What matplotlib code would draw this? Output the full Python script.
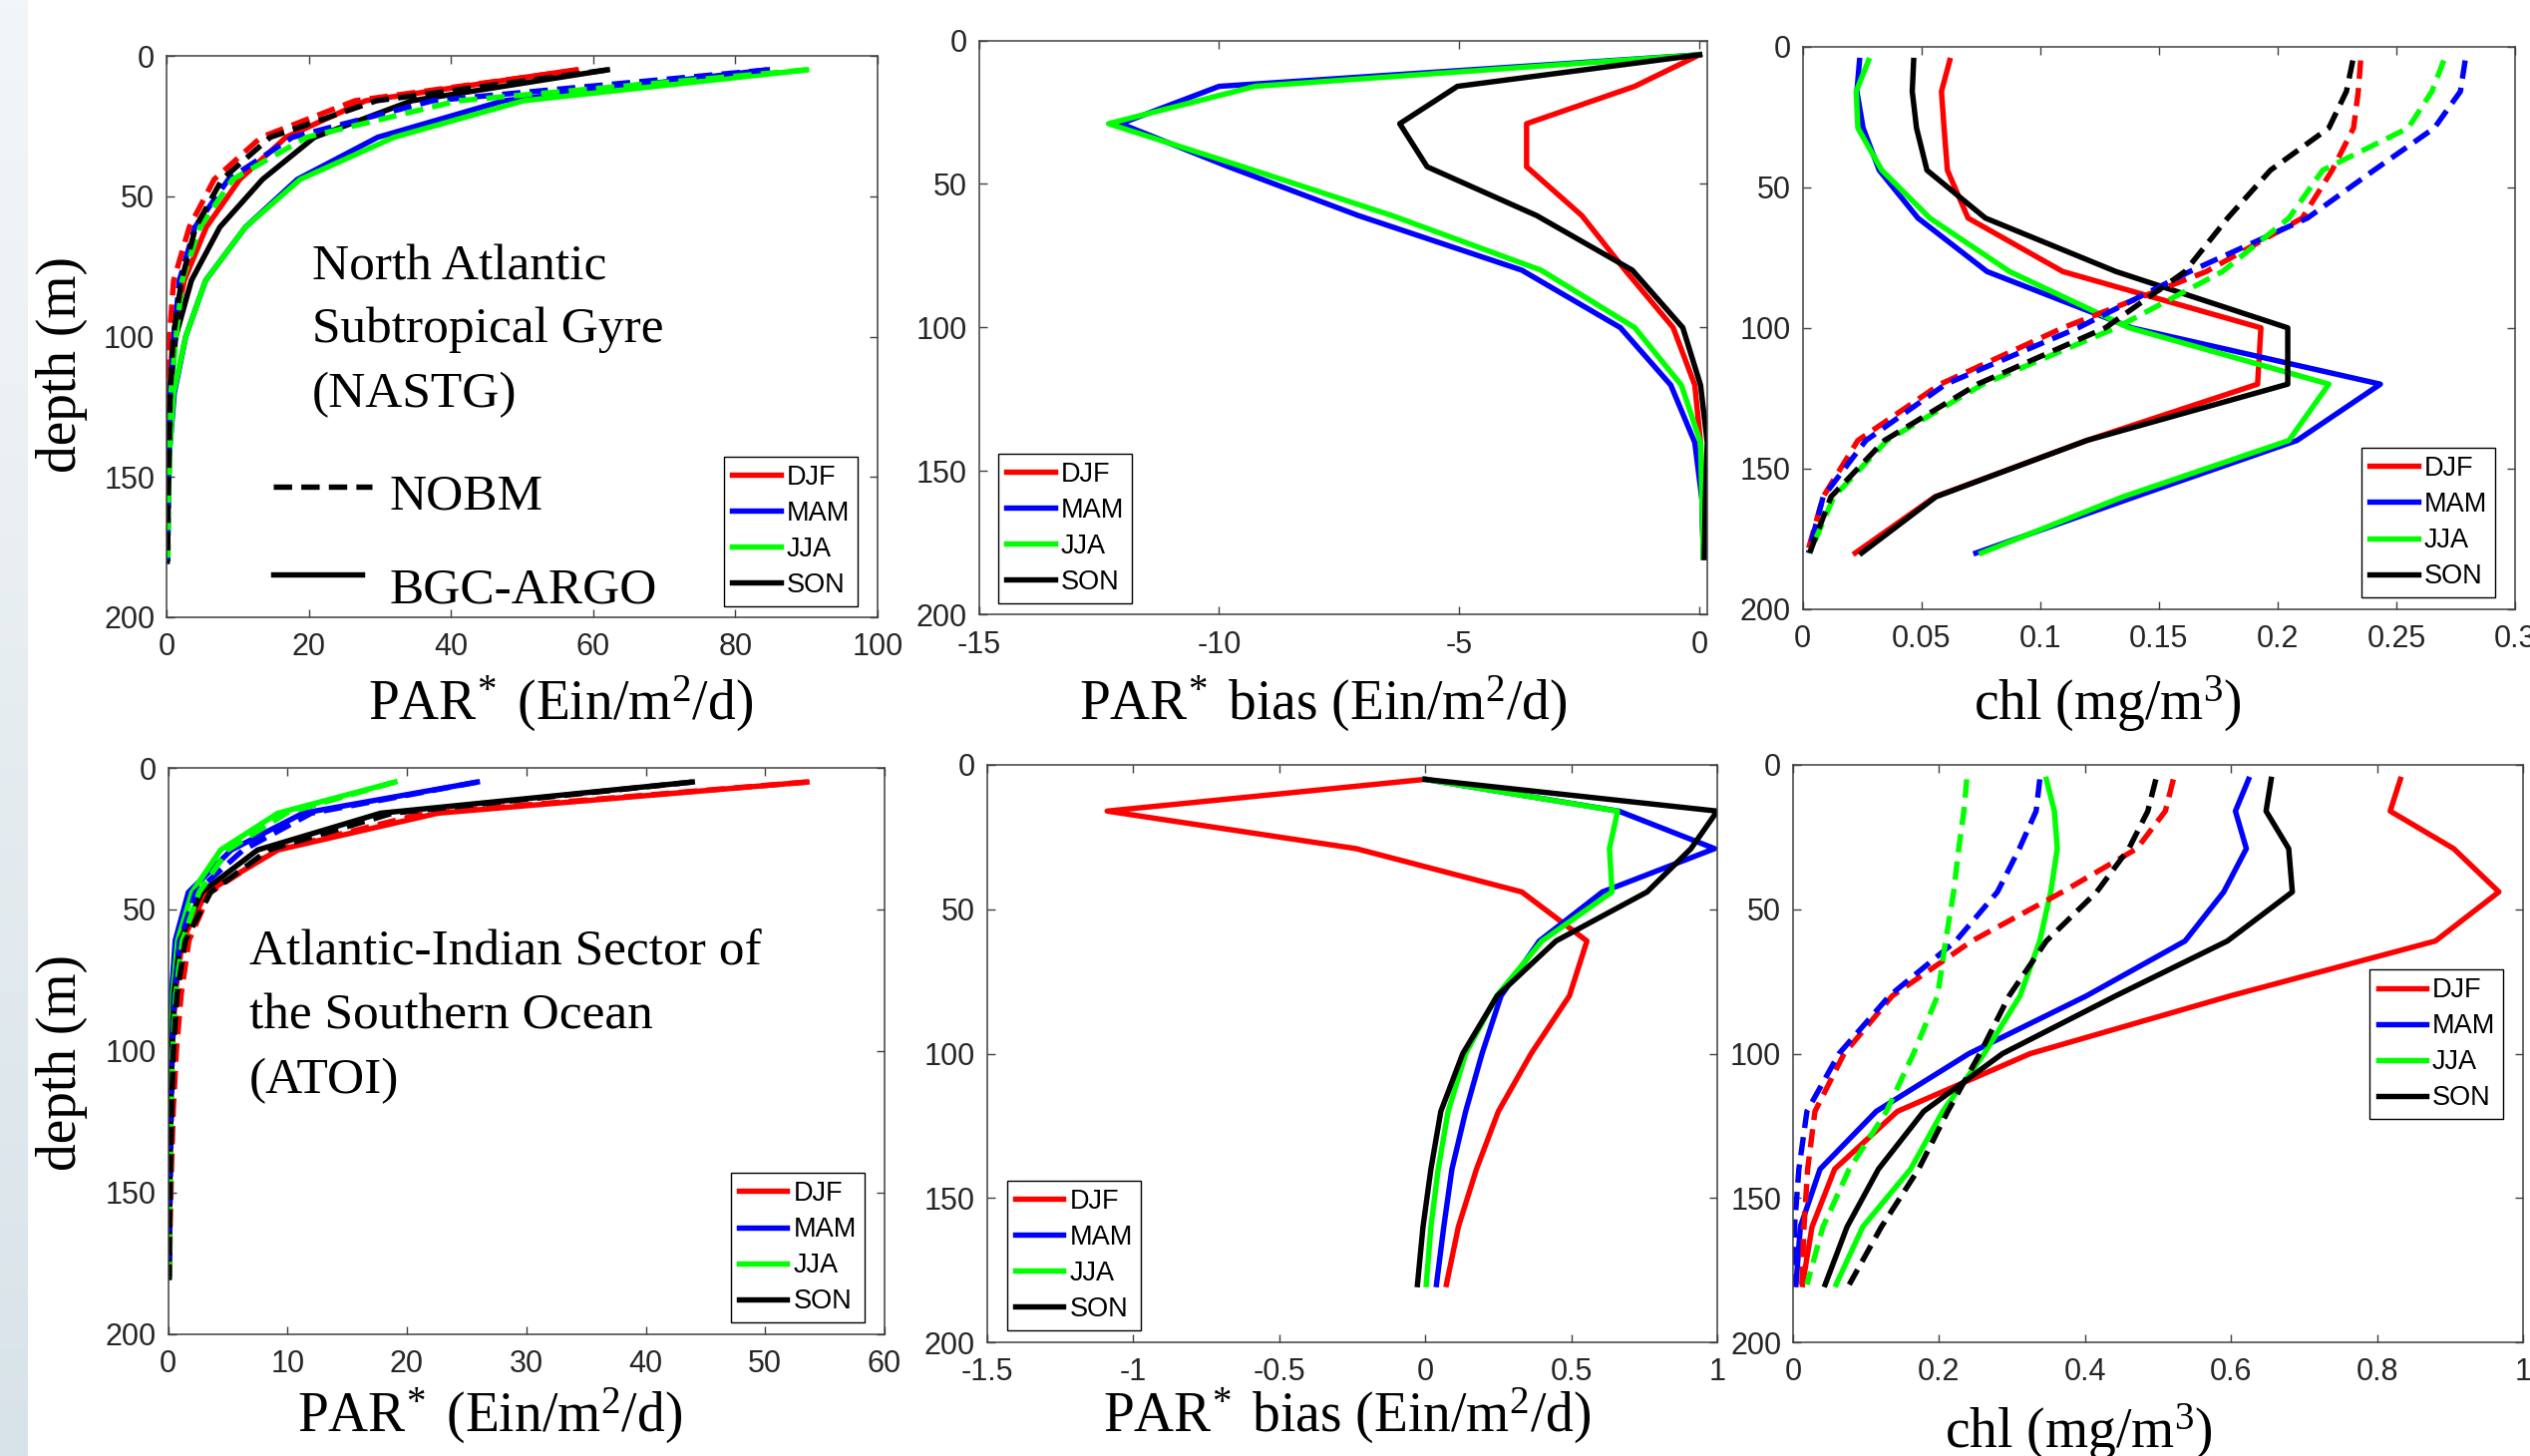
import matplotlib.pyplot as plt
import numpy as np
from matplotlib.colors import LinearSegmentedColormap

# ---------------------------------------------------------------
# Seasonal mean profiles, NOBM (dashed) vs BGC-ARGO (solid)
# ---------------------------------------------------------------
depth = [5, 16, 29, 44, 61, 80, 100, 120, 140, 160, 180]
seasons = ['DJF', 'MAM', 'JJA', 'SON']
season_colors = ['#ff0000', '#0000ff', '#00ff00', '#000000']

# North Atlantic Subtropical Gyre (NASTG)
nastg_par_argo = {
    'DJF': [57.5, 28.0, 16.8, 10.3, 5.6, 2.5, 0.9, 0.35, 0.2, 0.1, 0.05],
    'MAM': [84.5, 47.4, 29.7, 18.4, 11.1, 5.5, 2.7, 1.1, 0.45, 0.2, 0.1],
    'JJA': [90.0, 50.2, 32.0, 18.8, 11.1, 5.5, 2.7, 1.0, 0.45, 0.2, 0.1],
    'SON': [62.0, 34.5, 20.8, 13.5, 7.5, 3.5, 1.3, 0.5, 0.2, 0.1, 0.05],
}
nastg_par_nobm = {
    'DJF': [58.0, 26.5, 13.3, 6.7, 3.2, 1.0, 0.4, 0.25, 0.2, 0.15, 0.1],
    'MAM': [84.5, 37.4, 17.7, 8.7, 4.0, 1.8, 1.05, 0.5, 0.35, 0.25, 0.18],
    'JJA': [90.0, 41.0, 19.7, 9.3, 4.7, 2.2, 1.35, 0.62, 0.47, 0.25, 0.18],
    'SON': [62.0, 29.5, 14.6, 7.8, 4.1, 2.1, 0.95, 0.52, 0.36, 0.22, 0.15],
}
nastg_par_bias = {
    'DJF': [0.0, -1.35, -3.6, -3.6, -2.45, -1.55, -0.55, -0.1, 0.02, 0.05, 0.08],
    'MAM': [0.0, -10.0, -12.05, -9.8, -7.1, -3.7, -1.65, -0.6, -0.1, 0.05, 0.08],
    'JJA': [0.0, -9.25, -12.3, -9.5, -6.4, -3.3, -1.35, -0.38, 0.02, 0.05, 0.08],
    'SON': [0.0, -5.04, -6.24, -5.67, -3.39, -1.4, -0.35, 0.02, 0.16, 0.12, 0.1],
}
nastg_chl_argo = {
    'DJF': [0.062, 0.0585, 0.0596, 0.061, 0.0697, 0.1096, 0.193, 0.1916, 0.1197, 0.0558, 0.0222],
    'MAM': [0.024, 0.0229, 0.0255, 0.0323, 0.0486, 0.0777, 0.1387, 0.2433, 0.2082, 0.14, 0.073],
    'JJA': [0.0278, 0.0226, 0.0233, 0.0334, 0.0536, 0.0872, 0.1376, 0.2216, 0.2048, 0.135, 0.0753],
    'SON': [0.0468, 0.0462, 0.048, 0.0524, 0.077, 0.132, 0.2043, 0.2043, 0.1197, 0.0562, 0.0249],
}
nastg_chl_nobm = {
    'DJF': [0.235, 0.234, 0.232, 0.223, 0.2104, 0.170, 0.1096, 0.058, 0.0233, 0.0087, 0.002],
    'MAM': [0.279, 0.277, 0.266, 0.2406, 0.2126, 0.163, 0.116, 0.0603, 0.0267, 0.0087, 0.0025],
    'JJA': [0.270, 0.265, 0.255, 0.219, 0.2048, 0.1768, 0.132, 0.076, 0.0356, 0.0132, 0.003],
    'SON': [0.2317, 0.229, 0.2216, 0.197, 0.179, 0.161, 0.1275, 0.0737, 0.0345, 0.012, 0.003],
}

# Atlantic-Indian Sector of the Southern Ocean (ATOI)
atoi_par_argo = {
    'DJF': [53.5, 22.6, 9.2, 3.2, 1.2, 0.6, 0.35, 0.2, 0.12, 0.08, 0.05],
    'MAM': [25.9, 11.3, 5.3, 1.7, 0.6, 0.3, 0.15, 0.15, 0.12, 0.09, 0.06],
    'JJA': [19.0, 9.2, 4.4, 2.0, 0.8, 0.4, 0.26, 0.2, 0.16, 0.12, 0.1],
    'SON': [43.9, 17.8, 7.5, 2.8, 1.0, 0.5, 0.32, 0.25, 0.18, 0.14, 0.1],
}
atoi_par_nobm = {
    'DJF': [53.5, 21.5, 9.0, 3.5, 1.75, 1.1, 0.7, 0.45, 0.3, 0.19, 0.12],
    'MAM': [25.9, 12.0, 6.3, 2.3, 1.0, 0.56, 0.35, 0.29, 0.21, 0.15, 0.1],
    'JJA': [19.0, 9.9, 5.0, 2.6, 1.2, 0.65, 0.4, 0.28, 0.2, 0.14, 0.1],
    'SON': [43.9, 18.8, 8.4, 3.56, 1.45, 0.75, 0.45, 0.3, 0.2, 0.13, 0.08],
}
atoi_par_bias = {
    'DJF': [0.0, -1.088, -0.236, 0.331, 0.554, 0.494, 0.363, 0.251, 0.176, 0.114, 0.073],
    'MAM': [0.0, 0.663, 0.991, 0.607, 0.391, 0.26, 0.195, 0.139, 0.092, 0.064, 0.039],
    'JJA': [0.0, 0.659, 0.631, 0.64, 0.40, 0.245, 0.139, 0.079, 0.045, 0.02, 0.004],
    'SON': [0.0, 1.0, 0.91, 0.76, 0.448, 0.247, 0.129, 0.054, 0.02, -0.007, -0.026],
}
atoi_chl_argo = {
    'DJF': [0.832, 0.818, 0.905, 0.967, 0.88, 0.599, 0.325, 0.143, 0.057, 0.026, 0.013],
    'MAM': [0.624, 0.606, 0.621, 0.59, 0.537, 0.402, 0.241, 0.114, 0.037, 0.01, 0.004],
    'JJA': [0.347, 0.358, 0.362, 0.353, 0.338, 0.311, 0.262, 0.205, 0.161, 0.0955, 0.059],
    'SON': [0.655, 0.648, 0.679, 0.684, 0.595, 0.442, 0.287, 0.179, 0.117, 0.074, 0.044],
}
atoi_chl_nobm = {
    'DJF': [0.521, 0.51, 0.471, 0.369, 0.245, 0.136, 0.07, 0.03, 0.02, 0.015, 0.012],
    'MAM': [0.338, 0.333, 0.31, 0.28, 0.223, 0.132, 0.063, 0.019, 0.008, 0.002, 0.001],
    'JJA': [0.238, 0.234, 0.227, 0.22, 0.209, 0.198, 0.165, 0.128, 0.077, 0.041, 0.019],
    'SON': [0.497, 0.486, 0.46, 0.416, 0.347, 0.296, 0.256, 0.212, 0.172, 0.121, 0.077],
}

# axis ticks
par_ticks_nastg = [0, 20, 40, 60, 80, 100]
bias_ticks_nastg = [-15, -10, -5, 0]
chl_ticks_nastg = [0, 0.05, 0.1, 0.15, 0.2, 0.25, 0.3]
chl_ticklabels_nastg = ['0', '0.05', '0.1', '0.15', '0.2', '0.25', '0.3']
par_ticks_atoi = [0, 10, 20, 30, 40, 50, 60]
bias_ticks_atoi = [-1.5, -1, -0.5, 0, 0.5, 1]
bias_ticklabels_atoi = ['-1.5', '-1', '-0.5', '0', '0.5', '1']
chl_ticks_atoi = [0, 0.2, 0.4, 0.6, 0.8, 1]
chl_ticklabels_atoi = ['0', '0.2', '0.4', '0.6', '0.8', '1']
depth_ticks = [0, 50, 100, 150, 200]

# ---------------------------------------------------------------
plt.rcParams['font.family'] = ['Liberation Sans', 'DejaVu Sans']
plt.rcParams['mathtext.fontset'] = 'custom'
plt.rcParams['mathtext.rm'] = 'Liberation Serif'
plt.rcParams['mathtext.it'] = 'Liberation Serif:italic'
plt.rcParams['mathtext.default'] = 'regular'

W, H = 2537, 1460
fig = plt.figure(figsize=(W / 100, H / 100), dpi=100)

LW = 3.9
DASH = (3.4, 1.7)
SERIF = 'Liberation Serif'
TXT = '#262626'


def px_rect(l, t, r, b):
    return [l / W, 1 - b / H, (r - l) / W, (b - t) / H]


def style_axes(ax, xlim, xticks, xticklabels=None):
    ax.set_xlim(*xlim)
    ax.set_ylim(200, 0)
    ax.set_xticks(xticks)
    if xticklabels is None:
        xticklabels = [str(t) for t in xticks]
    ax.set_xticklabels(xticklabels)
    ax.set_yticks(depth_ticks)
    ax.set_yticklabels([str(t) for t in depth_ticks])
    ax.tick_params(direction='in', top=True, right=True, length=5.5, width=1.0,
                   labelsize=22, colors='#404040', labelcolor=TXT)
    ax.tick_params(axis='x', pad=11)
    ax.tick_params(axis='y', pad=8.5)
    for sp in ax.spines.values():
        sp.set_color('#404040')
        sp.set_linewidth(1.1)


def add_legend(ax, handles, loc, anchor):
    leg = ax.legend(handles, seasons, loc=loc, bbox_to_anchor=anchor,
                    borderaxespad=0, fontsize=19.5, frameon=True, fancybox=False,
                    edgecolor='black', framealpha=1, handlelength=1.78,
                    handletextpad=0.22, borderpad=0.3, labelspacing=0.37)
    leg.get_frame().set_linewidth(1.0)


def profile_panel(rect, argo, nobm, xlim, xticks, xticklabels, loc, anchor):
    ax = fig.add_axes(px_rect(*rect))
    handles = []
    for s, c in zip(seasons, season_colors):
        h, = ax.plot(argo[s], depth, color=c, lw=LW)
        handles.append(h)
    for s, c in zip(seasons, season_colors):
        ax.plot(nobm[s], depth, color=c, lw=LW, ls=(0, DASH))
    style_axes(ax, xlim, xticks, xticklabels)
    add_legend(ax, handles, loc, anchor)
    return ax


def bias_panel(rect, bias, xlim, xticks, xticklabels, loc, anchor):
    ax = fig.add_axes(px_rect(*rect))
    handles = []
    for s, c in zip(seasons, season_colors):
        h, = ax.plot(bias[s], depth, color=c, lw=LW)
        handles.append(h)
    style_axes(ax, xlim, xticks, xticklabels)
    add_legend(ax, handles, loc, anchor)
    return ax


# top row: NASTG
axA = profile_panel((167, 56, 880, 619), nastg_par_argo, nastg_par_nobm,
                    (0, 100), par_ticks_nastg, None, 'lower right', (0.972, 0.0195))
axB = bias_panel((981.5, 40.5, 1712, 616.5), nastg_par_bias,
                 (-15, 0.16), bias_ticks_nastg, None, 'lower left', (0.027, 0.020))
axC = profile_panel((1807.5, 46.5, 2522, 611), nastg_chl_argo, nastg_chl_nobm,
                    (0, 0.3), chl_ticks_nastg, chl_ticklabels_nastg, 'lower right', (0.972, 0.021))

# bottom row: ATOI
axD = profile_panel((168.5, 770, 887, 1337.5), atoi_par_argo, atoi_par_nobm,
                    (0, 60), par_ticks_atoi, None, 'lower right', (0.972, 0.020))
axE = bias_panel((989.5, 767, 1722, 1346), atoi_par_bias,
                 (-1.5, 1), bias_ticks_atoi, bias_ticklabels_atoi, 'lower left', (0.028, 0.021))
axF = profile_panel((1798, 767, 2530, 1346), atoi_chl_argo, atoi_chl_nobm,
                    (0, 1), chl_ticks_atoi, chl_ticklabels_atoi, 'upper right', (0.973, 0.646))

# region names
for txt, y in zip(['North Atlantic', 'Subtropical Gyre', '(NASTG)'], [0.602, 0.490, 0.375]):
    axA.text(0.205, y, txt, transform=axA.transAxes, family=SERIF, fontsize=37,
             va='baseline', ha='left', color='black')
for txt, y in zip(['Atlantic-Indian Sector of', 'the Southern Ocean', '(ATOI)'],
                  [0.652, 0.539, 0.426]):
    axD.text(0.113, y, txt, transform=axD.transAxes, family=SERIF, fontsize=37,
             va='baseline', ha='left', color='black')

# line-style key
axA.plot([0.150, 0.289], [0.2334, 0.2334], transform=axA.transAxes, color='black',
         lw=LW, ls=(0, DASH))
axA.text(0.313, 0.215, 'NOBM', transform=axA.transAxes, family=SERIF, fontsize=37,
         va='center', ha='left')
axA.plot([0.150, 0.275], [0.0764, 0.0764], transform=axA.transAxes, color='black', lw=LW)
axA.text(0.313, 0.048, 'BGC-ARGO', transform=axA.transAxes, family=SERIF, fontsize=37,
         va='center', ha='left')

# axis labels
par_label = r'PAR$^{\!*}$ (Ein/m$^2$/d)'
bias_label = r'PAR$^{\!*}$ bias (Ein/m$^2$/d)'
chl_label = 'chl (mg/m$^3$)'
lab_kw = dict(family=SERIF, fontsize=40, ha='center', va='center', color='black')
fig.text(62 / W, 1 - 366 / H, 'depth (m)', rotation=90, **lab_kw)
fig.text(62 / W, 1 - 1066 / H, 'depth (m)', rotation=90, **lab_kw)
fig.text(562 / W, 1 - 706 / H, par_label, **lab_kw)
fig.text(1327 / W, 1 - 706 / H, bias_label, **lab_kw)
fig.text(2113 / W, 1 - 706 / H, chl_label, **lab_kw)
fig.text(491 / W, 1 - 1420 / H, par_label, **lab_kw)
fig.text(1351 / W, 1 - 1420 / H, bias_label, **lab_kw)
fig.text(2084 / W, 1 - 1436 / H, chl_label, **lab_kw)

# light strip along the left edge
ax_strip = fig.add_axes([0, 0, 28 / W, 1])
strip_cmap = LinearSegmentedColormap.from_list('strip', ['#f3f6f8', '#d8e3e9'])
ax_strip.imshow(np.linspace(0, 1, 256).reshape(-1, 1), cmap=strip_cmap, aspect='auto')
ax_strip.axis('off')

fig.savefig('out.png', dpi=100)
